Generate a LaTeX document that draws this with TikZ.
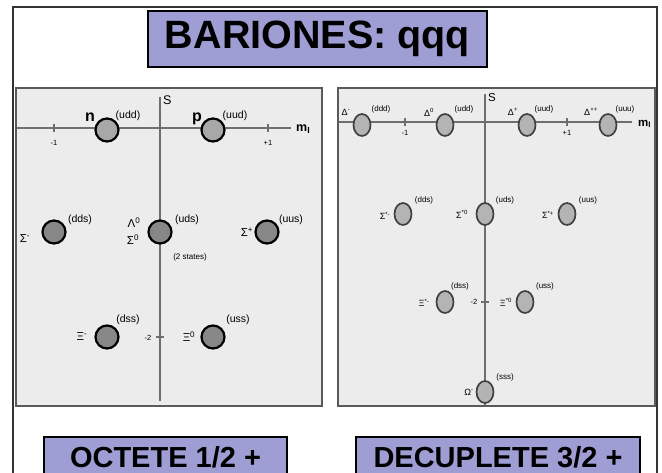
\documentclass[tikz,border=0pt]{standalone}
\usepackage{fontspec}
\setmainfont{Liberation Sans}
\usetikzlibrary{shapes.geometric}
\definecolor{boxblue}{RGB}{158,158,212}
\definecolor{panelbg}{RGB}{236,236,236}
\definecolor{panelline}{RGB}{90,90,90}
\definecolor{axisgray}{RGB}{110,110,110}
\definecolor{darkball}{RGB}{135,135,135}
\definecolor{lightball}{RGB}{168,168,168}
\definecolor{decball}{RGB}{180,180,180}
\begin{document}
\begin{tikzpicture}[x=1pt,y=-1pt,
  titlebox/.style={draw=black,line width=1.8pt,fill=boxblue,inner sep=0pt,font=\bfseries},
  panel/.style={draw=panelline,line width=2pt,fill=panelbg},
  axis/.style={draw=axisgray,line width=1.3pt},
  ticklbl/.style={font=\fontsize{7.5}{8}\selectfont,inner sep=0pt},
  octball/.style={circle,draw=black,line width=2.2pt,fill=darkball,minimum size=23pt,inner sep=0pt},
  octlight/.style={octball,fill=lightball},
  decball/.style={ellipse,draw=black!75,line width=1.7pt,fill=decball,minimum width=17pt,minimum height=22pt,inner sep=0pt},
  plbl/.style={font=\fontsize{11.5}{12}\selectfont,inner sep=0pt},
  qlbl/.style={font=\fontsize{10.5}{11}\selectfont,inner sep=0pt},
  dlbl/.style={font=\fontsize{9}{10}\selectfont,inner sep=0pt},
  dq/.style={font=\fontsize{8}{9}\selectfont,inner sep=0pt}
]
\useasboundingbox (0,0) rectangle (662,473);
\clip (0,0) rectangle (662,473);
\fill[white] (0,0) rectangle (662,473);
% outer frame
\draw[black!80,line width=1.2pt] (13,490) -- (13,7) -- (657,7) -- (657,490);
% title
\node[titlebox,minimum width=339pt,minimum height=56pt,font=\fontsize{39.5}{41}\selectfont\bfseries] (title) at (317.5,39) {BARIONES: qqq};
% panels
\draw[panel] (16,88) rectangle (322,406);
\draw[panel] (338,88) rectangle (655,406);

% ===== Left panel: octet =====
\coordinate (lxa) at (17,128); \coordinate (lxb) at (291,128);
\coordinate (lya) at (160,97); \coordinate (lyb) at (160,401);
\draw[axis] (lxa) -- (lxb);
\draw[axis] (lya) -- (lyb);
\draw[axis] (54,124) -- (54,132);
\draw[axis] (268,124) -- (268,132);
\draw[axis] (156,337) -- (164,337);
\node[ticklbl] (lm1) at (54,143) {-1};
\node[ticklbl] (lp1) at (268,143) {+1};
\node[ticklbl] (lm2) at (148,338) {-2};
\node[font=\fontsize{12.5}{13}\selectfont\bfseries,inner sep=0pt,anchor=west] (lmi) at (296,129) {m\textsubscript{I}};
\node[font=\fontsize{12.5}{13}\selectfont,inner sep=0pt,anchor=west] (lS) at (163,100) {S};

\node[octlight] (n) at (107,130) {};
\node[octlight] (p) at (213,130) {};
\node[octball] (sm) at (54,232) {};
\node[octball] (l0) at (160,232) {};
\node[octball] (sp) at (267,232) {};
\node[octball] (xm) at (107,337) {};
\node[octball] (x0) at (213,337) {};

\node[font=\fontsize{16}{17}\selectfont\bfseries,inner sep=0pt] (nl) at (90,117) {n};
\node[qlbl] (nq) at (128,116) {(udd)};
\node[font=\fontsize{16}{17}\selectfont\bfseries,inner sep=0pt] (pl) at (197,119) {p};
\node[qlbl] (pq) at (235,116) {(uud)};
\node[plbl] (sml) at (25,239) {Σ\textsuperscript{-}};
\node[qlbl] (smq) at (80,220) {(dds)};
\node[plbl] (l0l) at (134,223) {Λ\textsuperscript{0}};
\node[plbl] (s0l) at (133,240) {Σ\textsuperscript{0}};
\node[qlbl] (l0q) at (187,220) {(uds)};
\node[font=\fontsize{8}{9}\selectfont,inner sep=0pt] (st) at (190,257) {(2 states)};
\node[plbl] (spl) at (247,232) {Σ\textsuperscript{+}};
\node[qlbl] (spq) at (291,220) {(uus)};
\node[plbl] (xml) at (82,337) {Ξ\textsuperscript{-}};
\node[qlbl] (xmq) at (128,320) {(dss)};
\node[plbl] (x0l) at (189,337) {Ξ\textsuperscript{0}};
\node[qlbl] (x0q) at (238,320) {(uss)};

% ===== Right panel: decuplet =====
\coordinate (rxa) at (339,122); \coordinate (rxb) at (632,122);
\coordinate (rya) at (485,94); \coordinate (ryb) at (485,405);
\draw[axis] (rxa) -- (rxb);
\draw[axis] (rya) -- (ryb);
\draw[axis] (405,118) -- (405,126);
\draw[axis] (567,118) -- (567,126);
\draw[axis] (481,302) -- (489,302);
\node[ticklbl] (rm1) at (405,133) {-1};
\node[ticklbl] (rp1) at (567,133) {+1};
\node[ticklbl] (rm2) at (474,302) {-2};
\node[font=\fontsize{11.5}{12}\selectfont\bfseries,inner sep=0pt,anchor=west] (rmi) at (638,124) {m\textsubscript{I}};
\node[font=\fontsize{11.5}{12}\selectfont,inner sep=0pt,anchor=west] (rS) at (488,98) {S};

\node[decball] (dm) at (362,125) {};
\node[decball] (d0) at (445,125) {};
\node[decball] (dp) at (527,125) {};
\node[decball] (dpp) at (608,125) {};
\node[decball] (ssm) at (403,214) {};
\node[decball] (ss0) at (485,214) {};
\node[decball] (ssp) at (567,214) {};
\node[decball] (xsm) at (445,302) {};
\node[decball] (xs0) at (525,302) {};
\node[decball] (om) at (485,392) {};

\node[dlbl] (dml) at (346,112) {Δ\textsuperscript{-}};
\node[dq] (dmq) at (381,109) {(ddd)};
\node[dlbl] (d0l) at (429,112) {Δ\textsuperscript{0}};
\node[dq] (d0q) at (464,109) {(udd)};
\node[dlbl] (dpl) at (513,112) {Δ\textsuperscript{+}};
\node[dq] (dpq) at (544,109) {(uud)};
\node[dlbl] (dppl) at (591,112) {Δ\textsuperscript{++}};
\node[dq] (dppq) at (625,109) {(uuu)};
\node[dlbl] (ssml) at (385,216) {Σ\textsuperscript{*-}};
\node[dq] (ssmq) at (424,200) {(dds)};
\node[dlbl] (ss0l) at (462,214) {Σ\textsuperscript{*0}};
\node[dq] (ss0q) at (505,200) {(uds)};
\node[dlbl] (sspl) at (548,215) {Σ\textsuperscript{*+}};
\node[dq] (sspq) at (588,200) {(uus)};
\node[dlbl] (xsml) at (424,303) {Ξ\textsuperscript{*-}};
\node[dq] (xsmq) at (460,286) {(dss)};
\node[dlbl] (xs0l) at (506,302) {Ξ\textsuperscript{*0}};
\node[dq] (xs0q) at (545,286) {(uss)};
\node[dlbl] (oml) at (469,392) {Ω\textsuperscript{-}};
\node[dq] (omq) at (505,377) {(sss)};

% bottom labels
\draw[draw=black,line width=1.8pt,fill=boxblue] (44,437) rectangle (287,490);
\draw[draw=black,line width=1.8pt,fill=boxblue] (356,437) rectangle (640,490);
\node[font=\fontsize{29}{30}\selectfont\bfseries,inner sep=0pt] (oct) at (165.5,457) {OCTETE 1/2 +};
\node[font=\fontsize{29}{30}\selectfont\bfseries,inner sep=0pt] (dec) at (498,457) {DECUPLETE 3/2 +};
\end{tikzpicture}
\end{document}
